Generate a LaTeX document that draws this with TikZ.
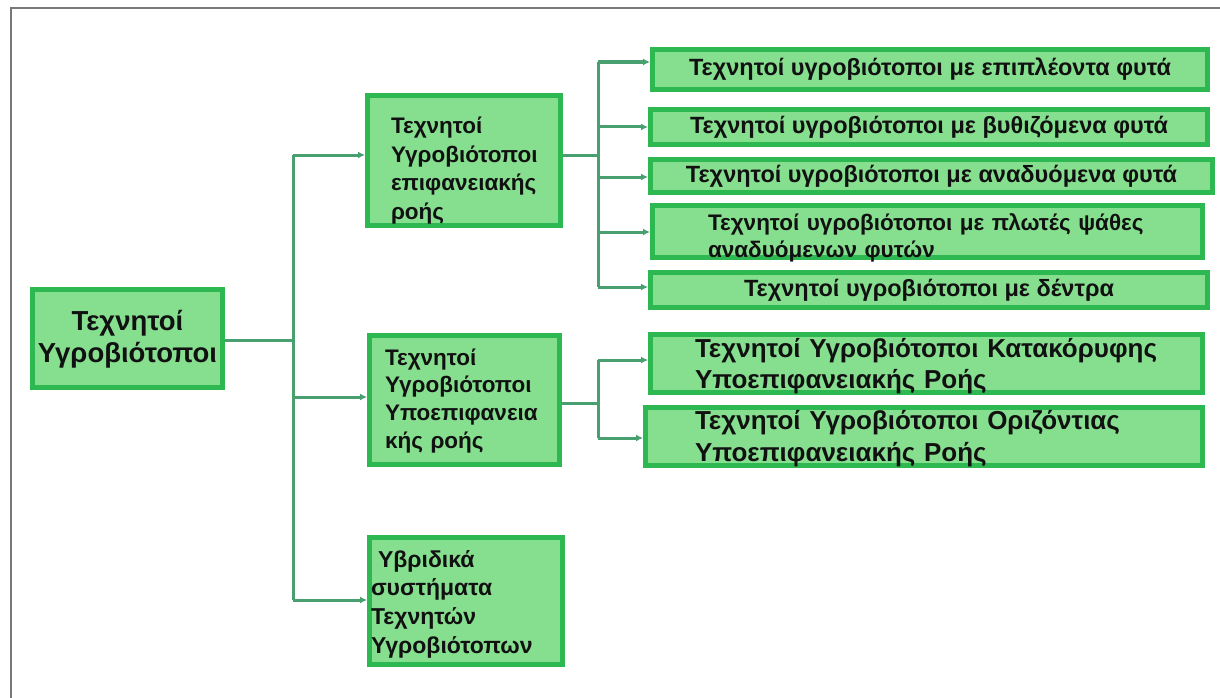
\documentclass[tikz,border=0pt]{standalone}
\usepackage{fontspec}
\setmainfont{Liberation Sans}
\usetikzlibrary{arrows.meta}
\definecolor{boxfill}{RGB}{134,222,143}
\definecolor{boxline}{RGB}{46,184,82}
\definecolor{connc}{RGB}{72,160,112}
\definecolor{framec}{RGB}{120,120,120}
\definecolor{txt}{RGB}{17,17,17}
\tikzset{
  gbox/.style={draw=boxline, fill=boxfill, line width=5pt, inner sep=0pt, text=txt},
  conn/.style={draw=connc, line width=3pt},
  arr/.style={conn, -{Latex[length=7pt,width=7pt]}},
}
\begin{document}
\begin{tikzpicture}[x=1pt,y=-1pt]
\useasboundingbox (0,0) rectangle (1220,698);
\fill[white] (0,0) rectangle (1220,698);
\draw[framec, line width=2.5pt] (11,698) -- (11,8) -- (1220,8);

% main
\node[gbox, minimum width=190pt, minimum height=98pt, text width=190pt, align=center,
  text height=0pt, text depth=17pt, font=\fontsize{27.5}{32}\selectfont\bfseries]
  (main) at (127.5,338.5) {Τεχνητοί\\Υγροβιότοποι};

% second level
\node[gbox, minimum width=193pt, minimum height=130pt, text width=146pt, align=left,
  text height=0pt, text depth=53pt, font=\fontsize{22.5}{28.5}\selectfont\bfseries]
  (b1) at (464,160.5) {Τεχνητοί\\Υγροβιότοποι\\επιφανειακής\\ροής};
\node[gbox, minimum width=190pt, minimum height=129pt, text width=159pt, align=left,
  text height=0pt, text depth=70pt, font=\fontsize{22.5}{27.7}\selectfont\bfseries]
  (b2) at (464.5,400) {Τεχνητοί\\Υγροβιότοποι\\Υποεπιφανεια\\κής ροής};
\node[gbox, minimum width=193pt, minimum height=127pt, text width=190pt, align=left,
  text height=0pt, text depth=68pt, font=\fontsize{23}{28.7}\selectfont\bfseries]
  (b3) at (466,601) {\hspace*{7pt}Υβριδικά\\συστήματα\\Τεχνητών\\Υγροβιότοπων};

% third level
\node[gbox, minimum width=555pt, minimum height=40pt, font=\fontsize{23.5}{28}\selectfont\bfseries]
  (c1) at (930,69.5) {Τεχνητοί υγροβιότοποι με επιπλέοντα φυτά};
\node[gbox, minimum width=557pt, minimum height=35pt, font=\fontsize{23.5}{28}\selectfont\bfseries]
  (c2) at (929,127) {Τεχνητοί υγροβιότοποι με βυθιζόμενα φυτά};
\node[gbox, minimum width=562pt, minimum height=33pt, font=\fontsize{23.5}{28}\selectfont\bfseries]
  (c3) at (931.5,176) {Τεχνητοί υγροβιότοποι με αναδυόμενα φυτά};
\node[gbox, minimum width=550pt, minimum height=52pt, text width=439pt, align=left,
  text height=0pt, text depth=3pt, font=\fontsize{22.5}{27}\selectfont\bfseries]
  (c4) at (927.5,231.5) {Τεχνητοί υγροβιότοποι με πλωτές ψάθες\\αναδυόμενων φυτών};
\node[gbox, minimum width=557pt, minimum height=35pt, font=\fontsize{23.5}{28}\selectfont\bfseries]
  (c5) at (929,290) {Τεχνητοί υγροβιότοποι με δέντρα};
\node[gbox, minimum width=552pt, minimum height=58pt, text width=463pt, align=left,
  text height=0pt, text depth=13pt, font=\fontsize{26}{31.5}\selectfont\bfseries]
  (c6) at (926.5,363.5) {Τεχνητοί Υγροβιότοποι Κατακόρυφης\\Υποεπιφανειακής Ροής};
\node[gbox, minimum width=557pt, minimum height=58pt, text width=458pt, align=left,
  text height=0pt, text depth=15pt, font=\fontsize{26}{32}\selectfont\bfseries]
  (c7) at (924,436.5) {Τεχνητοί Υγροβιότοποι Οριζόντιας\\Υποεπιφανειακής Ροής};

% junction coordinates
\coordinate (t1top) at (293,155);
\coordinate (t1mid) at (293,340);
\coordinate (t1b2) at (293,397);
\coordinate (t1bot) at (293,600);
\coordinate (t2top) at (598,62);
\coordinate (t2mid) at (598,155);
\coordinate (t2c2) at (598,127);
\coordinate (t2c3) at (598,177);
\coordinate (t2c4) at (598,232);
\coordinate (t2bot) at (598,287);
\coordinate (t3top) at (598,360);
\coordinate (t3mid) at (598,403);
\coordinate (t3bot) at (598,438);

% connectors level 1
\draw[conn] (main.east |- t1mid) -- (t1mid);
\draw[conn] (t1top) -- (t1bot);
\draw[arr] (t1top) -- (t1top -| b1.west);
\draw[arr] (t1b2) -- (t1b2 -| b2.west);
\draw[arr] (t1bot) -- (t1bot -| b3.west);

% connectors level 2 (surface flow)
\draw[conn] (b1.east |- t2mid) -- (t2mid);
\draw[conn] (t2top) -- (t2bot);
\draw[arr, line width=4pt] (t2top) -- (t2top -| c1.west);
\draw[arr] (t2c2) -- (t2c2 -| c2.west);
\draw[arr] (t2c3) -- (t2c3 -| c3.west);
\draw[arr] (t2c4) -- (t2c4 -| c4.west);
\draw[arr] (t2bot) -- (t2bot -| c5.west);

% connectors level 2 (subsurface flow)
\draw[conn] (b2.east |- t3mid) -- (t3mid);
\draw[conn] (t3top) -- (t3bot);
\draw[arr] (t3top) -- (t3top -| c6.west);
\draw[arr] (t3bot) -- (t3bot -| c7.west);
\end{tikzpicture}
\end{document}
